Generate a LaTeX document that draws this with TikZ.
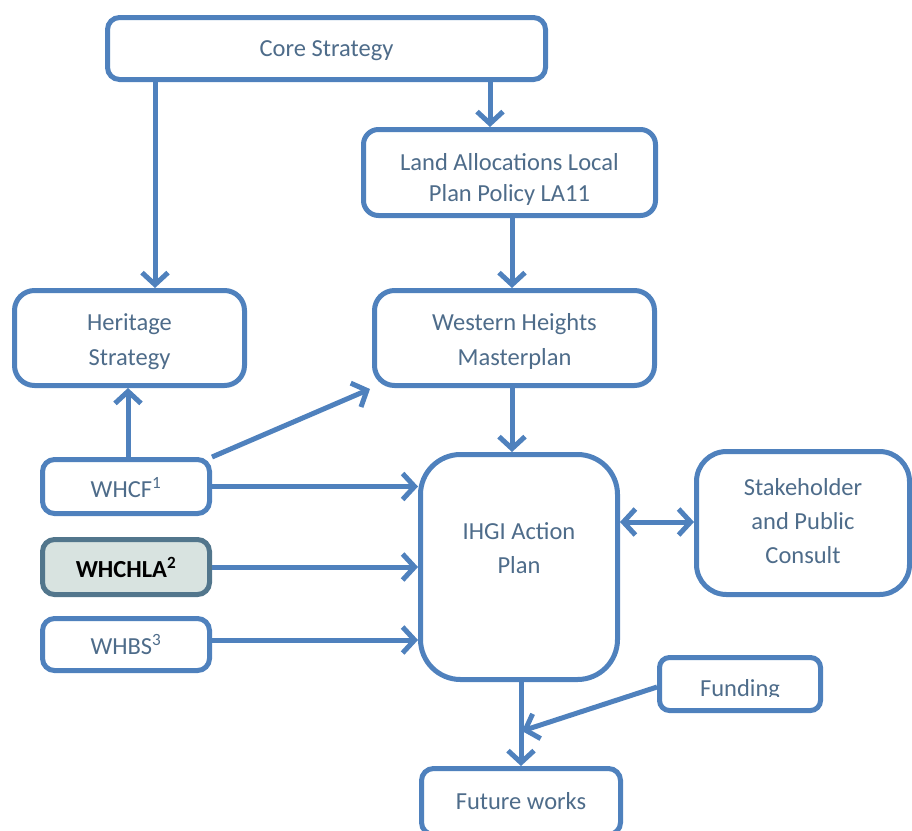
\documentclass[tikz,border=0pt]{standalone}
\usepackage{fontspec}
\setmainfont{Carlito}
\usetikzlibrary{arrows.meta}
\definecolor{boxblue}{RGB}{79,129,189}
\definecolor{txt}{RGB}{78,108,138}
\definecolor{grayfill}{RGB}{216,227,224}
\definecolor{grayline}{RGB}{82,118,140}
\begin{document}
\begin{tikzpicture}[x=1pt,y=-1pt,
  bx/.style={draw=boxblue,line width=5pt,fill=white,inner sep=0pt},
  lbl/.style={inner sep=0pt,align=center,text=txt,font=\fontsize{24.5}{34}\selectfont},
  conn/.style={draw=boxblue,line width=5pt,-{Straight Barb[length=12pt,width=26pt]}},
  conn2/.style={draw=boxblue,line width=5pt,{Straight Barb[length=12pt,width=26pt]}-{Straight Barb[length=12pt,width=26pt]}}]
\useasboundingbox (0,0) rectangle (912,830);
\begin{scope}
\clip (0,0) rectangle (912,830);
% boxes
\node[bx,minimum width=438pt,minimum height=62pt,rounded corners=12pt] (core) at (326.5,48.5) {};
\node[lbl] (coret) at (326.5,50.5) {Core Strategy};
\node[bx,minimum width=292pt,minimum height=86pt,rounded corners=15pt] (land) at (509.5,172.5) {};
\node[lbl,font=\fontsize{24.5}{31}\selectfont] (landt) at (509.5,179.5) {Land Allocations Local\\Plan Policy LA11};
\node[bx,minimum width=230pt,minimum height=95pt,rounded corners=20pt] (her) at (129.5,338) {};
\node[lbl,font=\fontsize{24.5}{35}\selectfont] (hert) at (129.5,341.5) {Heritage\\Strategy};
\node[bx,minimum width=280pt,minimum height=95pt,rounded corners=20pt] (wh) at (514.5,338) {};
\node[lbl,font=\fontsize{24.5}{35}\selectfont] (wht) at (514.5,341.5) {Western Heights\\Masterplan};
\node[bx,minimum width=167pt,minimum height=54pt,rounded corners=12pt] (whcf) at (126,486.5) {};
\node[lbl] (whcft) at (126,487.5) {WHCF\textsuperscript{1}};
\node[bx,draw=grayline,fill=grayfill,minimum width=167pt,minimum height=55pt,rounded corners=12pt] (whchla) at (126,567) {};
\node[lbl,text=black] (whchlat) at (126,567) {\bfseries WHCHLA\textsuperscript{2}};
\node[bx,minimum width=167pt,minimum height=52pt,rounded corners=12pt] (whbs) at (126,644.5) {};
\node[lbl] (whbst) at (126,644.5) {WHBS\textsuperscript{3}};
\node[bx,minimum width=197pt,minimum height=225pt,rounded corners=40pt] (ihgi) at (519,567) {};
\node[lbl] (ihgit) at (519,548) {IHGI Action\\Plan};
\node[bx,minimum width=213pt,minimum height=143pt,rounded corners=30pt] (stake) at (803,523) {};
\node[lbl] (staket) at (803,521.5) {Stakeholder\\and Public\\Consult};
\node[bx,minimum width=161pt,minimum height=53pt,rounded corners=10pt] (fund) at (740,684) {};
\begin{scope}
\clip (662,660) rectangle (818,696);
\node[lbl] (fundt) at (740,690) {Funding};
\end{scope}
\node[bx,minimum width=199pt,minimum height=66pt,rounded corners=12pt] (fut) at (521,801.5) {};
\node[lbl] (futt) at (521,801.5) {Future works};
\coordinate (join) at (522,731);
% connectors
\draw[conn] (core.south -| 155,0) -- (her.north -| 155,0);
\draw[conn] (core.south -| 490,0) -- (land.north -| 490,0);
\draw[conn] (land.south -| 512,0) -- (wh.north -| 512,0);
\draw[conn] (wh.south -| 512,0) -- (ihgi.north -| 512,0);
\draw[conn] (whcf.north -| 128,0) -- (her.south -| 128,0);
\draw[conn] (whcf.north east) -- (370,389);
\draw[conn] (whcf.east) -- (ihgi.west |- whcf.east);
\draw[conn] (whchla.east) -- (ihgi.west |- whchla.east);
\draw[conn] (whbs.east |- 0,640) -- (ihgi.west |- 0,640);
\draw[conn2] (ihgi.east |- 0,522) -- (stake.west |- 0,522);
\draw[conn] (ihgi.south -| 521,0) -- (fut.north -| 521,0);
\draw[conn] (fund.west |- 0,687) -- (join);
\end{scope}
\end{tikzpicture}
\end{document}
